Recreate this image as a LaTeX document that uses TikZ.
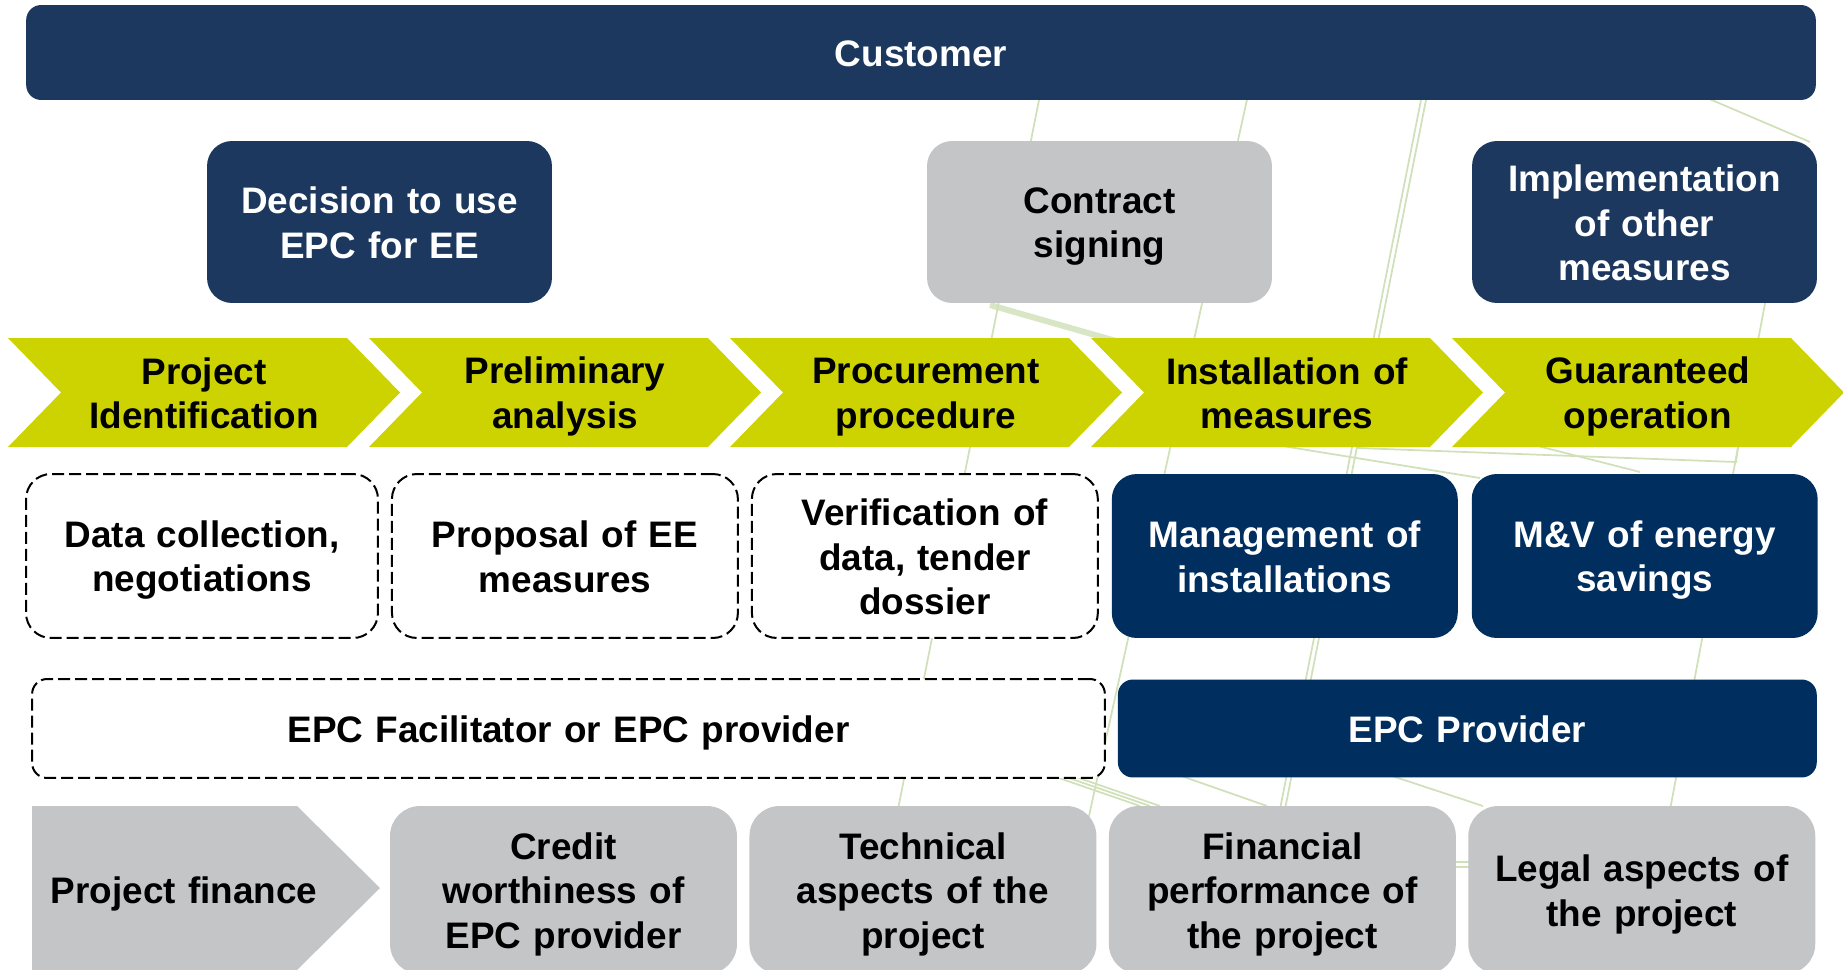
\documentclass[tikz,border=0pt]{standalone}
\usepackage{fontspec}
\setmainfont{Liberation Sans}
\usetikzlibrary{positioning}

\definecolor{epcnavy}{RGB}{28,56,94}
\definecolor{epcblue}{RGB}{0,46,94}
\definecolor{epcgrey}{RGB}{196,197,199}
\definecolor{epclime}{RGB}{204,211,0}
\definecolor{bggreen}{RGB}{208,224,184}

% line strut: keeps every text block centred the same way
\newcommand\lnstrut{\rule[-0.19em]{0pt}{1.14em}}

\begin{document}
\begin{tikzpicture}[
  x=0.02cm, y=-0.02cm,
  font=\bfseries\fontsize{21}{25.4}\selectfont,
  txt/.style={align=center, inner sep=0pt, text width=6.8cm, execute at begin node=\lnstrut, execute at end node=\lnstrut},
  box/.style={txt, rectangle, rounded corners=0.5cm, outer sep=0pt, minimum width=6.92cm, minimum height=3.28cm},
  dark/.style={box, fill=epcnavy, text=white},
  bbox/.style={box, fill=epcblue, text=white},
  gbox/.style={box, fill=epcgrey, text=black, rounded corners=0.6cm, minimum width=6.94cm, minimum height=3.36cm},
  dbox/.style={box, fill=white, draw=black, line width=0.04cm, dash pattern=on 0.24cm off 0.1cm},
  bgline/.style={draw=bggreen, line width=0.035cm}
]
\useasboundingbox (0,0) rectangle (1843,970);

% faint lines behind everything
\draw[bgline] (1040,95) -- (866,970);
\draw[bgline] (1248,95) -- (1055,970);
\draw[bgline] (1422,95) -- (1248,970);
\draw[bgline] (1427,95) -- (1253,970);
\draw[bgline] (1700,95) -- (1810,142);
\draw[bgline] (1775,250) -- (1640,970);
\draw[bgline, line width=0.12cm, opacity=0.8] (990,305) -- (1130,345);
\draw[bgline] (1270,444) -- (1480,478);
\draw[bgline] (1530,444) -- (1640,472);
\draw[bgline] (1357,448) -- (1736,462) -- (1739,440);
\draw[bgline] (1030,768) -- (1140,806);
\draw[bgline] (1040,768) -- (1150,806);
\draw[bgline] (1050,768) -- (1160,806);
\draw[bgline] (1170,772) -- (1267,806);
\draw[bgline] (1380,772) -- (1483,806);
\draw[bgline] (1440,862) -- (1480,862);
\draw[bgline] (1440,867) -- (1480,867);

\node[dark, text width=35cm, minimum width=35.8cm, minimum height=1.9cm, rounded corners=0.3cm] (customer) at (921,52.5) {Customer};

\node[dark, minimum width=6.9cm, minimum height=3.24cm] (decision) at (379.5,222) {Decision to use\\EPC for EE};
\node[box, fill=epcgrey, minimum width=6.9cm, minimum height=3.24cm] (signing) at (1099.5,222) {Contract\\signing};
\node[dark, minimum width=6.9cm, minimum height=3.24cm] (othermeas) at (1644.5,222) {Implementation\\of other\\measures};

\foreach \t [count=\i from 0] in {{Project\\Identification},{Preliminary\\analysis},{Procurement\\procedure},{Installation of\\measures},{Guaranteed\\operation}} {
  \fill[epclime] ({8+361*\i},338) -- ++(339,0) -- ++(53,54.5) -- ++(-53,54.5) -- ++(-339,0) -- ++(53,-54.5) -- cycle;
  \node[txt] (ph\i) at ({204+361*\i},392.5) {\t};
}

\node[dbox, minimum width=7.04cm] (collect) at (202,556) {Data collection,\\negotiations};
\node[dbox, right=0.28cm of collect] (proposal) {Proposal of EE\\measures};
\node[dbox, right=0.28cm of proposal] (verify) {Verification of\\data, tender\\dossier};
\node[bbox, right=0.28cm of verify] (manage) {Management of\\installations};
\node[bbox, right=0.28cm of manage] (mv) {M\&V of energy\\savings};

\node[dbox, text width=21cm, minimum width=21.46cm, minimum height=1.98cm, rounded corners=0.3cm] (facil) at (568.5,728.5) {EPC Facilitator or EPC provider};
\node[bbox, text width=13.5cm, minimum width=13.98cm, minimum height=1.96cm, rounded corners=0.3cm, right=0.26cm of facil] (provider) {EPC Provider};

\fill[epcgrey] (32,806) -- (297,806) -- (380,888) -- (297,970) -- (32,970) -- cycle;
\node[txt] (finance) at (184,890) {Project finance};
\node[gbox] (credit) at (563.5,890) {Credit\\worthiness of\\EPC provider};
\node[gbox, right=0.25cm of credit] (technical) {Technical\\aspects of the\\project};
\node[gbox, right=0.25cm of technical] (performance) {Financial\\performance of\\the project};
\node[gbox, right=0.25cm of performance] (legal) {Legal aspects of\\the project};
\end{tikzpicture}
\end{document}
